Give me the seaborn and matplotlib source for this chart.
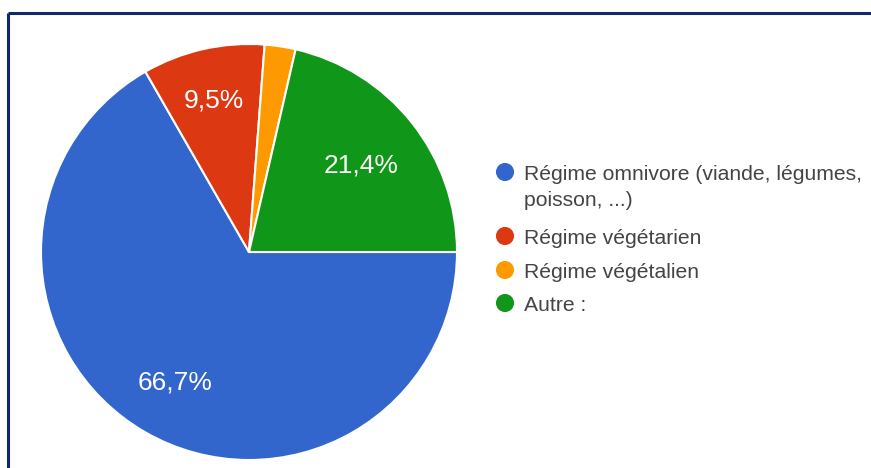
import matplotlib
matplotlib.use("Agg")
import numpy as np
import matplotlib.pyplot as plt
import seaborn as sns

# data
categories = [
    "Régime omnivore (viande, légumes,\npoisson, ...)",
    "Régime végétarien",
    "Régime végétalien",
    "Autre :",
]
shares = [66.7, 9.5, 2.4, 21.4]
slice_labels = ["66,7%", "9,5%", "", "21,4%"]
colours = ["#3366CC", "#DC3912", "#FF9900", "#109618"]

# label distance from centre, as fraction of radius
label_dist = [0.71, 0.76, 0.7, 0.69]

sns.set_theme(style="white")
plt.rcParams["font.family"] = ["Liberation Sans", "DejaVu Sans"]

W, H = 871, 468
fig = plt.figure(figsize=(W / 100, H / 100), dpi=100)
fig.patch.set_facecolor("white")

# pie axes: centre (249, 252), radius 208 in pixels
cx, cy, r = 249, 252, 208
ax = fig.add_axes([(cx - r) / W, (H - cy - r) / H, 2 * r / W, 2 * r / H])
wedges, _ = ax.pie(
    shares,
    colors=sns.color_palette(colours),
    startangle=0,
    counterclock=False,
    radius=1.0,
    wedgeprops=dict(edgecolor="white", linewidth=1.5),
)
half_cap = 9.5 / r  # half the digit height, in axes units
for wedge, lab, dist in zip(wedges, slice_labels, label_dist):
    if not lab:
        continue
    mid = np.deg2rad((wedge.theta1 + wedge.theta2) / 2)
    ax.text(dist * np.cos(mid), dist * np.sin(mid) - half_cap, lab,
            ha="center", va="baseline", color="white", fontsize=19)
ax.set_xlim(-1, 1)
ax.set_ylim(-1, 1)
ax.set_aspect("equal")
ax.axis("off")

# overlay in pixel coordinates for legend and frame
ov = fig.add_axes([0, 0, 1, 1], facecolor="none")
ov.set_xlim(0, W)
ov.set_ylim(H, 0)
ov.axis("off")

row_y = [172, 236, 270, 303]
for y, lab, col in zip(row_y, categories, colours):
    ov.scatter([505], [y], s=170, color=col, edgecolor="none")
    for i, line in enumerate(lab.split("\n")):
        ov.text(524, y + 8 + 26 * i, line, ha="left", va="baseline",
                fontsize=15.2, color="#444444")

ov.plot([8, W], [13, 13], color="#10296B", lw=2.2, solid_capstyle="butt")
ov.plot([8, 8], [13, H], color="#10296B", lw=2.2, solid_capstyle="butt")

fig.savefig("out.png", dpi=100)
